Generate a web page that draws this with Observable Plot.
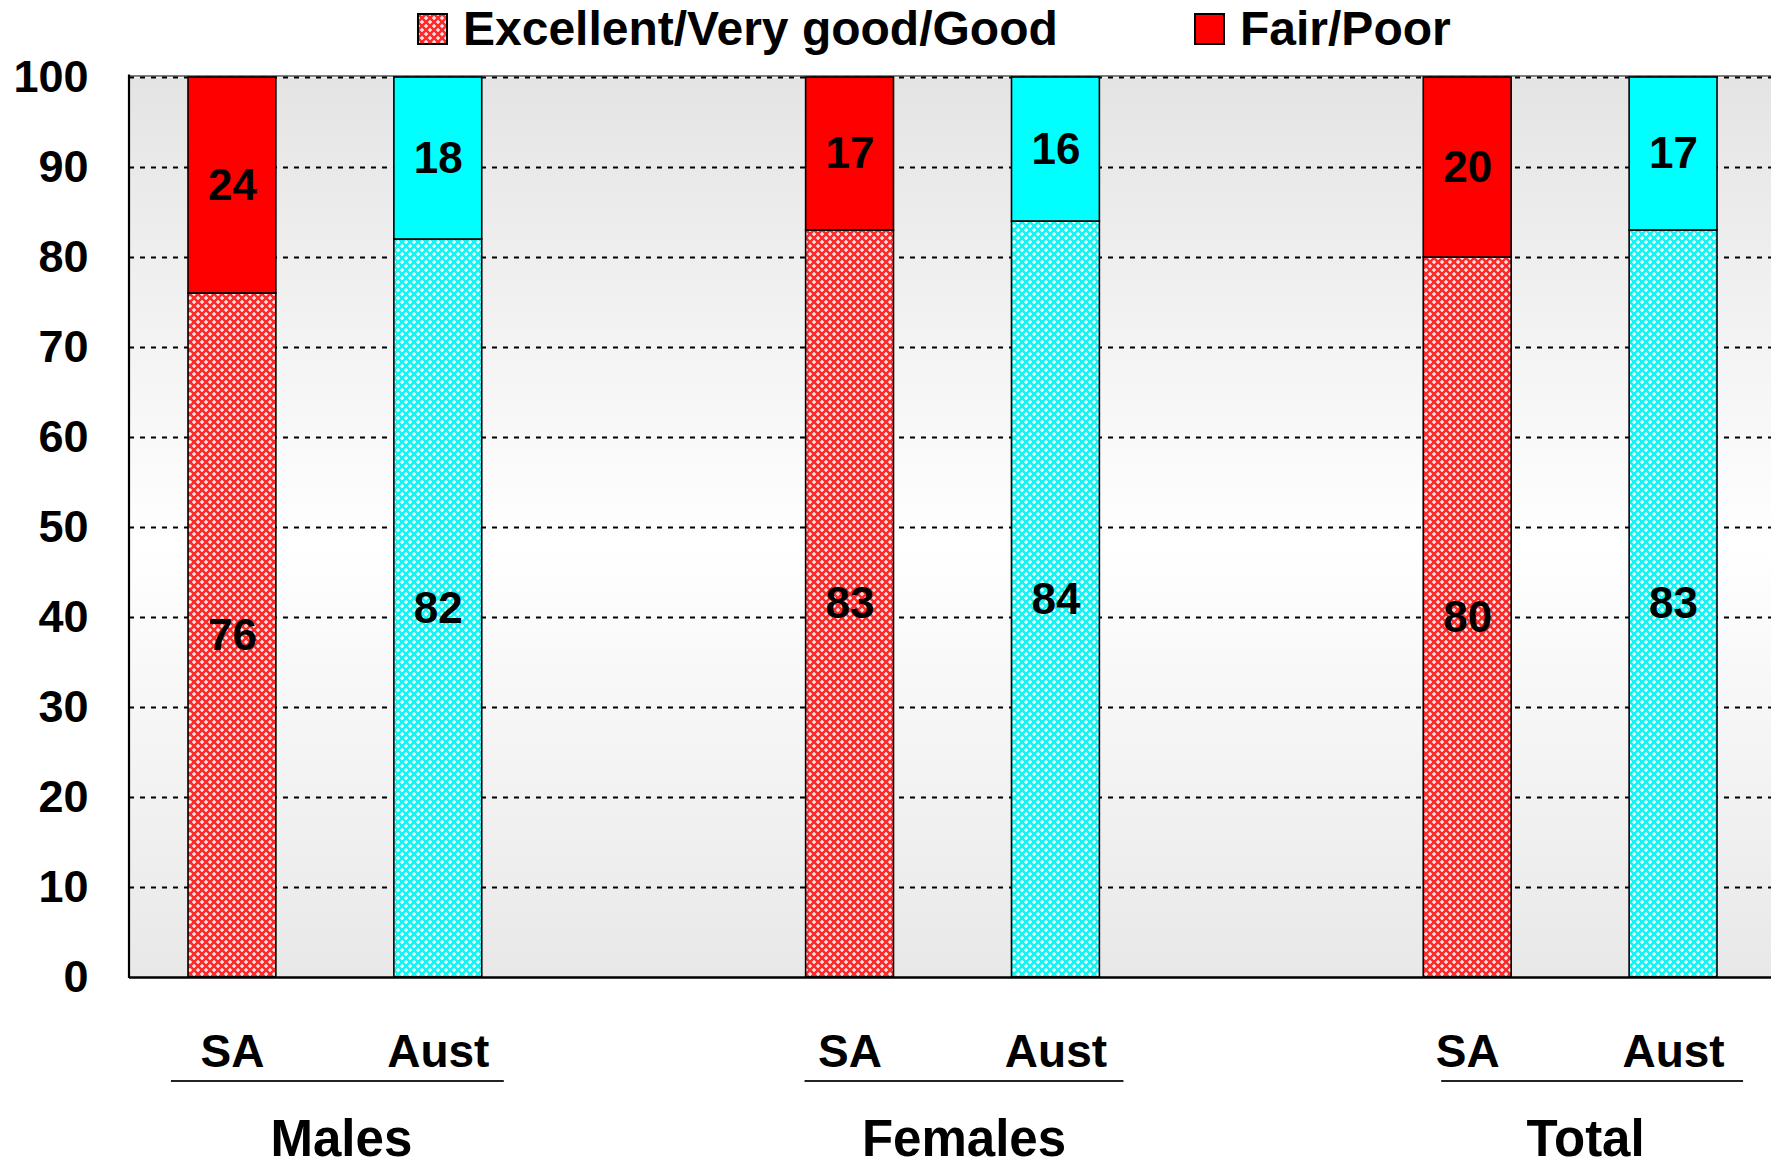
<!DOCTYPE html>
<html>
<head>
<meta charset="utf-8">
<script src="https://cdn.jsdelivr.net/npm/d3@7"></script>
<script src="https://cdn.jsdelivr.net/npm/@observablehq/plot@0.6"></script>
<style>
  html, body { margin: 0; padding: 0; background: #fff; overflow: hidden; }
  #legend, #chart { display: block; }
</style>
</head>
<body>
<div id="legend"></div>
<div id="chart"></div>
<script>
// ---------------- data ----------------
const groups = ["Males", "Females", "Total"];
const countries = ["SA", "Aust"];
const goodSA   = [76, 83, 80];   // Excellent/Very good/Good, SA
const fairSA   = [24, 17, 20];   // Fair/Poor, SA
const goodAust = [82, 84, 83];   // Excellent/Very good/Good, Aust
const fairAust = [18, 16, 17];   // Fair/Poor, Aust
const legendLabels = ["Excellent/Very good/Good", "Fair/Poor"];
const yTicks = [0, 10, 20, 30, 40, 50, 60, 70, 80, 90, 100];

// ---------------- styling ----------------
const FONT = '"Liberation Sans", Arial, Helvetica, sans-serif';
const groupLabelShift = [6, 11, 15];                       // px, label centre vs group centre
const underlineExtent = [[-61, 66], [-45, 68], [-26, 70]]; // px, relative to SA / Aust bar centres

// x slots: SA, Aust, (gap) per group
const slots = [];
groups.forEach((g, i) => {
  countries.forEach(c => slots.push(g + "|" + c));
  if (i < groups.length - 1) slots.push("gap" + i);
});

const rows = [];
groups.forEach((g, i) => {
  const vals = {SA: [goodSA[i], fairSA[i]], Aust: [goodAust[i], fairAust[i]]};
  countries.forEach(c => {
    const [gd, fr] = vals[c];
    rows.push({key: g + "|" + c, group: g, country: c, part: "good", y1: 0, y2: gd, value: gd});
    rows.push({key: g + "|" + c, group: g, country: c, part: "fair", y1: gd, y2: gd + fr, value: fr});
  });
});

const fillFor = d => d.part === "good"
  ? (d.country === "SA" ? "url(#patRed)" : "url(#patCyan)")
  : (d.country === "SA" ? "#ff0000" : "#00ffff");

// ---------------- defs (patterns + gradient) ----------------
function addDefs(svgSel, suffix) {
  const defs = svgSel.insert("defs", ":first-child");
  const mkPat = (id, base, light) => {
    const p = defs.append("pattern").attr("id", id + suffix)
      .attr("patternUnits", "userSpaceOnUse").attr("width", 8).attr("height", 8);
    p.append("rect").attr("width", 8).attr("height", 8).attr("fill", base);
    for (const [cx, cy] of [[2, 2], [6, 6]]) {
      p.append("rect").attr("x", cx - 2).attr("y", cy - 1).attr("width", 4).attr("height", 2).attr("fill", light);
      p.append("rect").attr("x", cx - 1).attr("y", cy - 2).attr("width", 2).attr("height", 4).attr("fill", light);
      p.append("rect").attr("x", cx - 1.5).attr("y", cy - 0.5).attr("width", 3).attr("height", 1).attr("fill", "#ffffff");
      p.append("rect").attr("x", cx - 0.5).attr("y", cy - 1.5).attr("width", 1).attr("height", 3).attr("fill", "#ffffff");
    }
  };
  mkPat("patRed", "#ff2a2a", "#ff9a9a");
  mkPat("patCyan", "#10f4f4", "#a0ffff");
  const g = defs.append("linearGradient").attr("id", "bgGrad" + suffix)
    .attr("x1", 0).attr("y1", 0).attr("x2", 0).attr("y2", 1);
  g.append("stop").attr("offset", "0%").attr("stop-color", "#e4e4e4");
  g.append("stop").attr("offset", "52%").attr("stop-color", "#ffffff");
  g.append("stop").attr("offset", "100%").attr("stop-color", "#e8e8e8");
}

// ---------------- legend (above the chart) ----------------
const leg = d3.select("#legend").append("svg")
  .attr("width", 1771).attr("height", 60)
  .style("display", "block");
addDefs(leg, "L");
const legItems = [
  {label: legendLabels[0], fill: "url(#patRedL)", x: 418},
  {label: legendLabels[1], fill: "#ff0000", x: 1195}
];
legItems.forEach(it => {
  leg.append("rect").attr("x", it.x).attr("y", 14).attr("width", 29).attr("height", 30)
    .attr("fill", it.fill).attr("stroke", "black").attr("stroke-width", 2);
  leg.append("text").attr("x", it.x + 45).attr("y", 45)
    .attr("font-family", FONT).attr("font-weight", "bold").attr("font-size", 48)
    .attr("fill", "black").text(it.label);
});

// ---------------- chart ----------------
const BW = 1647 / slots.length;
const chart = Plot.plot({
  width: 1771,
  height: 1104,
  marginTop: 17,
  marginBottom: 187,
  marginLeft: 129,
  marginRight: 0,
  style: {fontFamily: FONT, fontSize: "45px", fontWeight: "bold", color: "black", background: "transparent", overflow: "visible"},
  x: {type: "band", domain: slots, range: [129, 1776], padding: 0, round: false, axis: null},
  y: {domain: [0, 100], ticks: yTicks, tickSize: 0, tickPadding: 41, label: null},
  color: {type: "identity"},
  marks: [
    Plot.frame({fill: "url(#bgGrad)", stroke: "none"}),
    Plot.ruleY([100], {stroke: "#808080", strokeWidth: 2, dy: -1.5}),
    Plot.ruleY(yTicks.filter(t => t > 0), {stroke: "black", strokeWidth: 2.2, strokeDasharray: "5,6"}),
    Plot.barY(rows, {x: "key", y1: "y1", y2: "y2", fill: fillFor, stroke: "black", strokeWidth: 1.6, insetLeft: 59, insetRight: 59}),
    Plot.text(rows, {x: "key", y: d => (d.y1 + d.y2) / 2, text: d => String(d.value), fontSize: 44, fontWeight: "bold", fill: "black"}),
    Plot.ruleY([0], {stroke: "black", strokeWidth: 2.5}),
    Plot.text(rows.filter(d => d.part === "good"), {x: "key", text: "country", frameAnchor: "bottom", lineAnchor: "bottom", dy: 89, fontSize: 46, fontWeight: "bold", fill: "black"}),
    ...groups.map((g, i) => Plot.text([g], {x: d => d + "|Aust", text: d => d, frameAnchor: "bottom", lineAnchor: "bottom", dy: 178, dx: -BW / 2 + groupLabelShift[i], fontSize: 51, fontWeight: "bold", fill: "black"}))
  ]
});

const svg = d3.select(chart);
addDefs(svg, "");

// left axis line and group underlines, positioned through Plot's scales
const sx = chart.scale("x"), sy = chart.scale("y");
const bw = sx.bandwidth;
svg.append("line")
  .attr("x1", sx.range[0]).attr("x2", sx.range[0])
  .attr("y1", sy.apply(100) - 2.5).attr("y2", sy.apply(0) + 1)
  .attr("stroke", "black").attr("stroke-width", 2.2);
groups.forEach((g, i) => {
  const xa = sx.apply(g + "|SA") + bw / 2 + underlineExtent[i][0];
  const xb = sx.apply(g + "|Aust") + bw / 2 + underlineExtent[i][1];
  const yy = sy.apply(0) + 104;
  svg.append("line")
    .attr("x1", xa).attr("x2", xb)
    .attr("y1", yy).attr("y2", yy)
    .attr("stroke", "#222").attr("stroke-width", 2.2);
});

document.getElementById("chart").appendChild(chart);
</script>
</body>
</html>
